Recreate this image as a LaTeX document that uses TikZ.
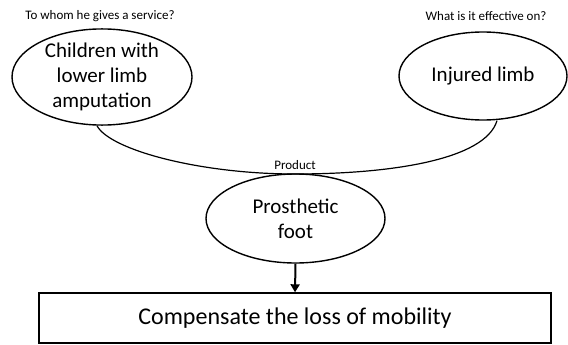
\documentclass[tikz,border=0pt]{standalone}
\usepackage{fontspec}
\setmainfont{Carlito}
\usetikzlibrary{shapes.geometric,arrows.meta}
\begin{document}
\begin{tikzpicture}[x=1pt,y=-1pt,
  oval/.style={draw,line width=1.4pt,ellipse,inner sep=0pt,align=center,font=\fontsize{21}{25}\selectfont},
  small/.style={font=\fontsize{13}{15}\selectfont,inner sep=0pt},
  conn/.style={line width=1.2pt}]
\useasboundingbox (0,0) rectangle (568,345);
\node[oval,minimum width=180pt,minimum height=88pt] (kids) at (102,77) {Children with\\lower limb\\amputation};
\node[oval,minimum width=168pt,minimum height=88pt] (limb) at (483,76) {Injured limb};
\node[oval,minimum width=179pt,minimum height=89pt] (foot) at (295.5,218.5) {Prosthetic\\foot};
\node[small] (q1) at (100,16) {To whom he gives a service?};
\node[small] (q2) at (486,16) {What is it effective on?};
\node[small] (prod) at (295,165) {Product};
\node[draw,line width=1.4pt,minimum width=512pt,minimum height=50pt,inner sep=0pt,font=\fontsize{24}{26}\selectfont] (box) at (295,318) {Compensate the loss of mobility};
\coordinate (bot) at (295,174);
\draw[conn] (kids.south) ++(-5,0) coordinate (ks) .. controls (110,150) and (200,174) .. (bot)
  .. controls (390,174) and (485,160) .. ([xshift=14pt]limb.south);
\draw[line width=2pt,-{Triangle[length=8pt,width=9pt]}] (foot.south) -- (box.north);
\end{tikzpicture}
\end{document}
